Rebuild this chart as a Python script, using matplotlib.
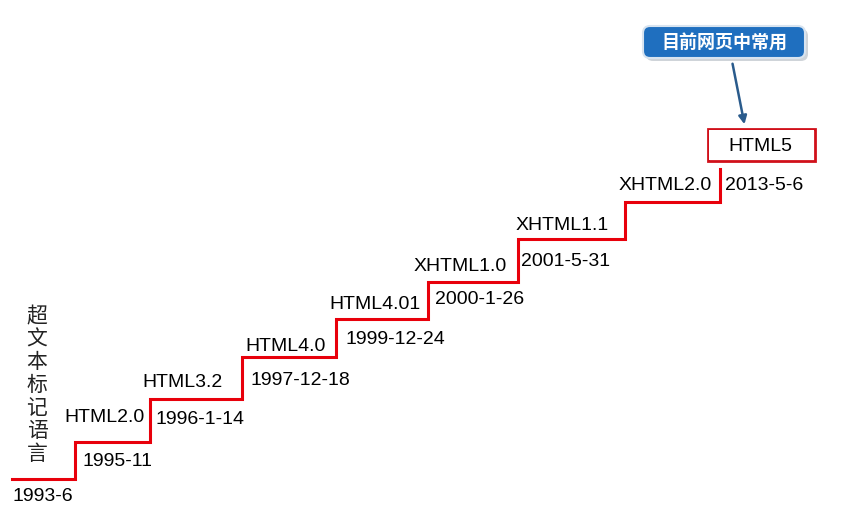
import matplotlib
matplotlib.use("Agg")
import matplotlib.pyplot as plt
from matplotlib.patches import FancyBboxPatch, Rectangle

plt.rcParams['font.family'] = ['Liberation Sans', 'Noto Sans CJK SC', 'DejaVu Sans']

# step edges (horizontal positions) and levels
step_x = [12, 75, 150, 242, 336, 428, 518, 625, 720]
levels = [480, 443, 400, 358, 320, 283, 240, 203, 170]
versions = ["HTML2.0", "HTML3.2", "HTML4.0", "HTML4.01", "XHTML1.0", "XHTML1.1", "XHTML2.0"]
dates = ["1993-6", "1995-11", "1996-1-14", "1997-12-18", "1999-12-24", "2000-1-26", "2001-5-31", "2013-5-6"]
ver_pos = [(104, 418), (183, 383), (286, 347), (375, 305), (460, 267), (562, 226), (665, 186)]
date_pos = [(43, 497), (117, 462), (200, 420), (300, 381), (395, 340), (480, 300), (566, 262), (764, 186)]

fig = plt.figure(figsize=(8.46, 5.10), dpi=100)
ax = fig.add_axes([0, 0, 1, 1])
ax.set_xlim(0, 846)
ax.set_ylim(510, 0)
ax.axis('off')

xs, ys = [], []
for i in range(len(step_x) - 1):
    xs += [step_x[i], step_x[i + 1]]
    ys += [levels[i], levels[i]]
xs.append(step_x[-1]); ys.append(levels[-1])
ax.plot(xs, ys, color='#e8000b', lw=2.2, solid_joinstyle='miter')

for t, (x, y) in zip(versions, ver_pos):
    ax.text(x, y, t, ha='center', va='center', fontsize=14)
for t, (x, y) in zip(dates, date_pos):
    ax.text(x, y, t, ha='center', va='center', fontsize=14)

ax.add_patch(Rectangle((708, 130), 107, 32, fill=False, ec='#d0101a', lw=2, fc='white'))
ax.add_patch(Rectangle((709, 131), 105, 30, fc='white', ec='none'))
ax.text(760, 147, "HTML5", ha='center', va='center', fontsize=14)

ax.text(37, 385, "超\n文\n本\n标\n记\n语\n言", ha='center', va='center', fontsize=15,
        family=['Noto Sans CJK SC'], weight='light', color='#222222', linespacing=1.05)

ax.add_patch(FancyBboxPatch((646, 30), 162, 32, boxstyle="round,pad=0,rounding_size=7",
                            fc='#b0b8c0', ec='none', alpha=0.6))
ax.add_patch(FancyBboxPatch((643, 27), 162, 32, boxstyle="round,pad=0,rounding_size=7",
                            fc='#1f6fbf', ec='#d8e4f0', lw=1.5))
ax.text(724, 43, "目前网页中常用", ha='center', va='center', fontsize=13, color='white',
        weight='bold', family=['Noto Sans CJK SC'])
ax.annotate("", xy=(745, 128), xytext=(732, 62),
            arrowprops=dict(arrowstyle='-|>', color='#2a5b8c', lw=1.8, mutation_scale=12))

fig.savefig("out.png", dpi=100)
